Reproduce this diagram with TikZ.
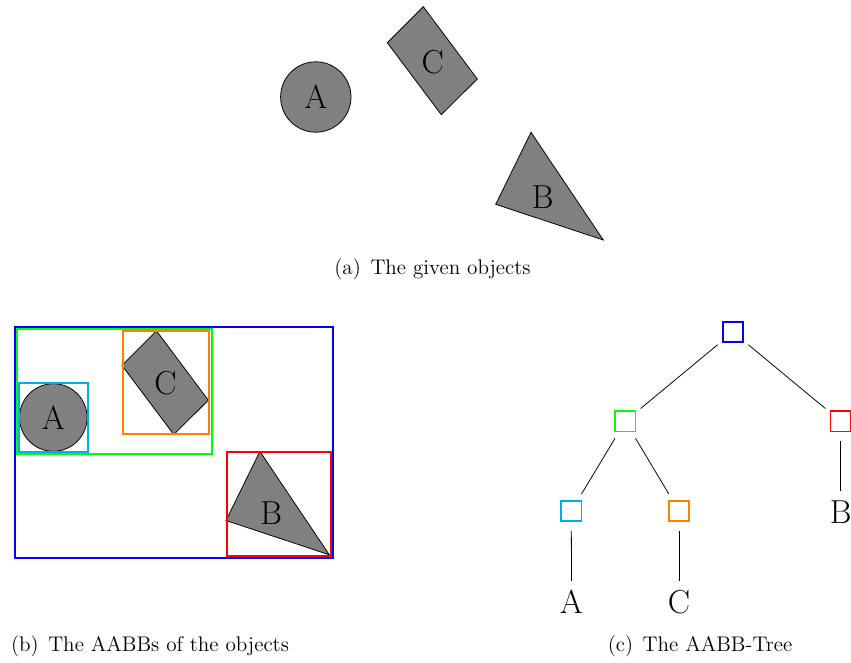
\documentclass[tikz,border=0pt]{standalone}
\usetikzlibrary{calc}
\definecolor{aabbcyan}{RGB}{0,174,239}
\definecolor{aabborange}{RGB}{255,128,0}
\begin{document}
\begin{tikzpicture}[x=0.52pt, y=-0.52pt,
		obj/.style={fill=gray, draw=black},
		box/.style={line width=1pt},
		lbl/.style={font=\LARGE, inner sep=4.5pt},
		caption/.style={font=\fontsize{11}{13.6}\selectfont, inner sep=0pt},
		aabb/.style={circle, minimum size=20.3pt, inner sep=0pt,
			path picture={\draw[#1, line width=0.9pt] ($(path picture bounding box.center)+(-10.3,-10.3)$) rectangle ++(20.6,20.6);}}]
	\useasboundingbox (0,0) rectangle (851,662);
	
	% the objects, once as given and once smaller inside their boxes
	\foreach \px/\py/\s in {315.8/97/1, 53.3/417.5/0.96} {
		\begin{scope}[shift={(\px,\py)}, scale=\s]
			\draw[obj] (0,0) circle (35.2);
			\draw[obj] (107.5,-90.3) -- (161.5,-18) -- (125.5,17.7) -- (71.5,-54.3) -- cycle;
			\draw[obj] (215.2,35.3) -- (287.5,143) -- (179.9,107.3) -- cycle;
			\node[font=\LARGE] at (0,0) {A};
			\node[font=\LARGE] at (116.9,-35.3) {C};
			\node[font=\LARGE] at (226.9,99.7) {B};
		\end{scope}
	}
	
	% the AABBs
	\draw[box, blue] (14.7,327.3) rectangle (333.3,557.7);
	\draw[box, green] (16.7,329) rectangle (211.7,453.7);
	\draw[box, aabborange] (122.7,330.7) rectangle (209.3,434.3);
	\draw[box, aabbcyan] (19,383) rectangle (88,451.7);
	\draw[box, red] (227,451.7) rectangle (331,555.7);
	
	% the tree
	\node[aabb=blue] (root) at (733,332) {};
	\node[aabb=green] (left) at (625.3,421.2) {};
	\node[aabb=red] (right) at (840.7,421.2) {};
	\node[aabb=aabbcyan] (leafA) at (571.3,511) {};
	\node[aabb=aabborange] (leafC) at (679,511) {};
	\node[lbl] (objA) at (571.5,601.7) {A};
	\node[lbl] (objC) at (679,601.7) {C};
	\node[lbl] (objB) at (840.7,511.7) {B};
	
	\draw (root) -- (left);
	\draw (root) -- (right);
	\draw (left) -- (leafA);
	\draw (left) -- (leafC);
	\draw (leafA) -- (objA);
	\draw (leafC) -- (objC);
	\draw (right) -- (objB);
	
	\node[caption] (capa) at (432.5,269.5) {(a)\hspace{5pt}The given objects};
	\node[caption] (capb) at (150,646.5) {(b)\hspace{5pt}The AABBs of the objects};
	\node[caption] (capc) at (700,646.5) {(c)\hspace{5pt}The AABB-Tree};
\end{tikzpicture}
\end{document}
